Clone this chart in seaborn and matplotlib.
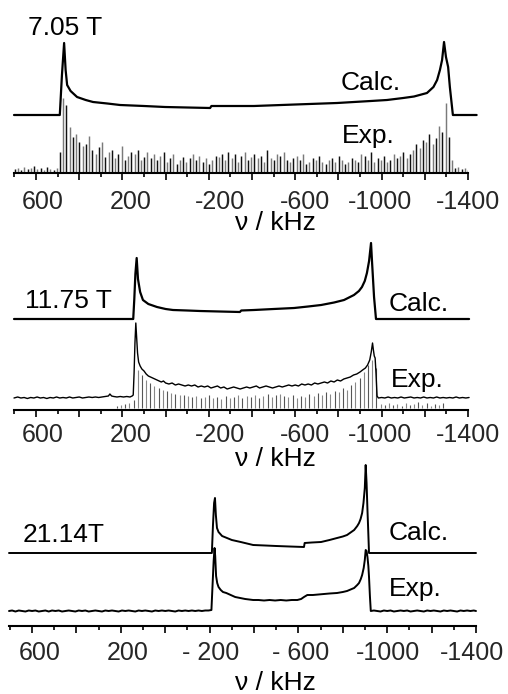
import numpy as np
import matplotlib
matplotlib.use("Agg")
import matplotlib.pyplot as plt
import matplotlib.transforms as mtransforms
from matplotlib.ticker import FixedLocator, MultipleLocator
import seaborn as sns

# ------------------------------------------------------------------ data
tick_values = [600, 400, 200, 0, -200, -400, -600, -800, -1000, -1200, -1400]
tick_labels_ab = ["600", "", "200", "", "-200", "", "-600", "", "-1000", "", "-1400"]
tick_labels_c = ["600", "", "200", "", "- 200", "", "- 600", "", "-1000", "", "-1400"]
field_labels = ["7.05 T", "11.75 T", "21.14T"]
calc_label = "Calc."
exp_label = "Exp."
x_label = "\u03bd / kHz"

# ---- 7.05 T : calculated line
calc1_khz = [702, 490, 480, 470, 463, 456, 440, 410, 370, 336, 270, 211, 100, 3,
             -100, -206, -212, -300, -409, -600, -794, -950, -1025, -1100, -1150,
             -1210, -1240, -1257, -1270, -1280, -1289, -1298, -1308, -1316, -1324,
             -1330, -1440]
calc1_int = [0, 0, 40, 72, 45, 30, 24, 18, 15, 13, 11.5, 10, 9, 8,
             7.5, 7, 9, 9, 9, 10.5, 12, 14, 15, 17, 18.5,
             22, 28, 35, 45, 55, 73, 58, 48, 28, 12,
             0, 0]
# ---- 7.05 T : experimental spikelet heights (699 -> -1401 kHz)
exp1_spk_range = (699, -1401)
exp1_spk_int = [3, 4, 2, 5, 3, 4, 6, 3, 4, 2, 5, 3, 2, 4,
                20, 74, 67, 45, 35, 38, 30, 26, 28, 36,
                22, 18, 25, 30, 15, 20, 22, 14, 18, 26,
                12, 16, 20, 18, 22, 12, 15, 20, 14, 18,
                12, 16, 20, 10, 14, 18, 8, 12, 15, 10,
                14, 18, 12, 16, 10, 14, 8, 12, 16, 15,
                18, 12, 20, 14, 18, 10, 16, 20, 12, 15,
                18, 14, 16, 10, 22, 14, 12, 18, 16, 20,
                12, 10, 14, 16, 12, 18, 8, 10, 14, 12,
                16, 10, 8, 12, 14, 10, 16, 12, 8, 10,
                14, 12, 10, 18, 16, 12, 20, 10, 14, 12,
                16, 10, 12, 18, 14, 16, 20, 14, 18, 22,
                28, 24, 32, 30, 38, 28, 34, 46, 40, 69,
                35, 12,
                4, 5, 3, 4, 2]

# ---- 11.75 T : calculated line
calc2_khz = [702, 150, 145, 140, 134, 128, 118, 105, 80, 40, 0, -34, -100, -159,
             -250, -344, -350, -409, -500, -595, -660, -720, -780, -826, -872,
             -895, -909, -922, -932, -942, -951, -956, -965, -974, -1405]
calc2_int = [0, 0, 20, 45, 61, 40, 27, 19, 15, 12, 10, 9, 8.5, 8,
             7.5, 7, 8.5, 9, 10, 11, 12.5, 14, 16.5, 19, 24,
             28, 32, 38, 46, 58, 76, 56, 22, 0, 0]
# ---- 11.75 T : experimental envelope
exp2_khz = [702, 685, 670, 655, 640, 625, 610, 595, 580, 565, 550, 535, 520, 505,
            490, 475, 460, 445, 430, 415, 400, 385, 370, 355, 340, 325, 310, 295,
            280, 265, 258, 250, 240, 225, 210, 195, 180, 165, 155, 150, 146, 142,
            138, 134, 130, 125, 118, 110, 100, 90, 80, 70, 60, 50, 40, 30, 20, 10,
            0, -15, -30, -45, -60, -75, -90, -105, -120, -135, -150, -165, -180,
            -195, -210, -225, -240, -255, -270, -285, -300, -315, -330, -345, -360,
            -375, -390, -405, -420, -435, -450, -465, -480, -495, -510, -525, -540,
            -555, -570, -585, -600, -615, -630, -645, -660, -675, -690, -705, -720,
            -735, -750, -765, -780, -795, -810, -825, -840, -855, -870, -885, -900,
            -912, -925, -935, -945, -952, -958, -962, -966, -970, -974, -979, -985,
            -1000, -1015, -1030, -1045, -1060, -1075, -1090, -1105, -1120, -1135,
            -1150, -1165, -1180, -1195, -1210, -1225, -1240, -1255, -1270, -1285,
            -1300, -1315, -1330, -1345, -1360, -1375, -1390, -1405]
exp2_int = [0, 1, 0, 0.5, -0.5, 0.5, 0, 1, 0, 0.5, -0.5, 0.5, 0, 1,
            0, 0.5, 0, 1, 0, 0.5, 1, 0, 0.5, 1, 0.5, 1, 0.5, 1,
            1.5, 2, 4, 2, 1.5, 1, 1.5, 1, 1.5, 1, 2, 3, 25, 55,
            75, 60, 45, 36, 32, 29, 27, 24, 22, 21, 20, 19, 18, 17, 16, 17,
            15, 14, 15, 13, 14, 13, 12, 13, 12, 13, 11, 12, 11,
            12, 10, 11, 12, 10, 11, 9, 10, 11, 10, 9, 10,
            11, 10, 11, 12, 10, 11, 12, 11, 10, 11, 12, 11,
            12, 13, 12, 13, 12, 14, 13, 14, 13, 15, 14, 15,
            16, 15, 17, 16, 18, 17, 19, 20, 21, 23, 24, 26,
            28, 30, 33, 38, 46, 55, 48, 42, 40, 25, 2, 0,
            0.5, 0, 1, 0, 0.5, 0, 1, 0, 0.5, 1,
            0, 0.5, 0, 1, 0, 0.5, 0, 1, 0, 0.5,
            0, 0.5, 0, 1, 0, 0.5, 0, 0.5]
# ---- 11.75 T : experimental spikelet heights (226 -> -1286 kHz)
exp2_spk_range = (226, -1286)
exp2_spk_int = [2, 3, 4, 5, 8, 38, 33, 28, 25, 22, 20, 18, 17, 15, 14, 13, 13,
                12, 11, 12, 10, 11, 13, 10, 11, 9, 12, 10, 11, 13, 10, 12, 11,
                13, 10, 12, 14, 11, 13, 14, 12, 11, 13, 10, 12, 11, 14, 12, 15,
                13, 16, 14, 17, 16, 20, 18, 23, 26, 30, 36, 43, 48, 40,
                4, 3, 5, 3, 4, 2, 5, 3, 4, 6, 3, 5, 2, 4, 3, 5]

# ---- 21.14 T : calculated line
calc3_khz = [704, -210, -215, -220, -224, -228, -233, -240, -256, -278, -300, -340,
             -396, -450, -500, -560, -625, -628, -660, -702, -740, -774, -800,
             -819, -835, -851, -865, -873, -880, -887, -893, -899, -903, -907,
             -911, -914, -918, -1400]
calc3_int = [0, 0, 28, 50, 55, 38, 25, 21, 17, 15, 13, 11,
             8, 7.5, 7, 6.5, 6, 10, 10.5, 11, 13, 15, 16.5,
             18, 20.5, 23, 27, 30, 34, 40, 50, 65, 88, 70,
             43, 25, 0, 0]
# ---- 21.14 T : experimental line
exp3_khz = [704, 690, 675, 660, 645, 630, 615, 600, 585, 570, 555, 540, 525, 510,
            495, 480, 465, 450, 435, 420, 405, 390, 375, 360, 345, 330, 315, 300,
            285, 270, 255, 240, 225, 210, 195, 180, 165, 150, 135, 120, 105, 90,
            75, 60, 45, 30, 15, 0, -15, -30, -45, -60, -75, -90, -105, -120, -135,
            -150, -165, -180, -195, -208, -213, -218, -222, -225, -229, -234, -240,
            -250, -260, -275, -295, -315, -337, -360, -380, -396, -420, -445, -470,
            -495, -520, -545, -570, -595, -612, -625, -640, -665, -690, -715, -740,
            -774, -800, -819, -835, -851, -865, -873, -881, -887, -894, -899, -903,
            -907, -911, -915, -918, -922, -926, -940, -955, -970, -985, -1000,
            -1015, -1030, -1045, -1060, -1075, -1090, -1105, -1120, -1135, -1150,
            -1165, -1180, -1195, -1210, -1225, -1240, -1255, -1270, -1285, -1300,
            -1315, -1330, -1345, -1360, -1375, -1390, -1400]
exp3_int = [0, 0.5, -0.5, 0.5, 0, -0.5, 0.5, 0, 0.5, -0.5, 0, 0.5, -0.5, 0.5,
            0, 0.5, -0.5, 0, 0.5, 0, -0.5, 0.5, 0, 0.5, -0.5, 0, 0.5, 0,
            -0.5, 0.5, 0, 0.5, 0, -0.5, 0.5, 0, 0.5, 0, -0.5, 0.5, 0, 0.5,
            0, -0.5, 0.5, 0, 0.5, 0, 0.5, 0, -0.5, 0.5, 0, 0.5, 0, 0.5, 0,
            0.5, 0, 0.5, 0.5, 1, 25, 50, 63, 55, 35, 28, 24,
            21, 19, 18, 16, 14, 13, 12, 11.5, 11, 11, 10.5, 11,
            10.5, 11, 10.5, 11, 11, 12, 14, 16, 16, 16.5, 17, 17.5,
            18, 19, 20, 21.5, 23, 26, 28, 32, 36, 43, 51, 61,
            60, 54, 45, 34, 15, 0, 0.5, 0, -0.5, 0.5, 0,
            0.5, -0.5, 0, 0.5, 0, 0.5, -0.5, 0, 0.5, 0,
            -0.5, 0.5, 0, 0.5, 0, -0.5, 0.5, 0, 0.5, 0,
            -0.5, 0.5, 0, 0.5, 0, 0.5, 0]

# ------------------------------------------------------------------ style
sns.set_theme(style="white")
plt.rcParams["font.family"] = ["Liberation Sans", "DejaVu Sans"]

W, H = 508, 694
fig = plt.figure(figsize=(W / 100, H / 100), dpi=100)


def px_axes(x0, x1, ytop, ybot):
    return fig.add_axes([x0 / W, 1 - ybot / H, (x1 - x0) / W, (ybot - ytop) / H])


def ftext(x, y, s, size=19, ha="left"):
    fig.text(x / W, 1 - y / H, s, fontsize=size, ha=ha, va="baseline", color="black")


def style_axis(ax, xlim, ylim, labels, offsets, pad):
    ax.set_xlim(*xlim)
    ax.set_ylim(*ylim)
    for side in ["top", "left", "right"]:
        ax.spines[side].set_visible(False)
    ax.spines["bottom"].set_linewidth(1.5)
    ax.spines["bottom"].set_color("black")
    ax.set_yticks([])
    ax.xaxis.set_major_locator(FixedLocator(tick_values))
    ax.set_xticklabels(labels)
    ax.xaxis.set_minor_locator(MultipleLocator(100))
    ax.tick_params(axis="x", which="major", direction="out", length=5, width=1.2,
                   color="black", labelsize=18, pad=pad, bottom=True)
    ax.tick_params(axis="x", which="minor", direction="out", length=3, width=1.2,
                   color="black", bottom=True)
    ax.set_xlabel("")
    k = 0
    for lab, txt in zip(ax.get_xticklabels(), labels):
        if txt:
            dx = offsets[k]
            k += 1
            lab.set_transform(lab.get_transform() +
                              mtransforms.ScaledTranslation(dx / 100, 0, fig.dpi_scale_trans))
    ax.patch.set_alpha(0)


def line(ax, xs, ys, base, lw):
    sns.lineplot(x=np.asarray(xs, float), y=np.asarray(ys, float) + base, ax=ax,
                 color="black", linewidth=lw, sort=False, estimator=None,
                 clip_on=False, legend=False)


def spikes(ax, rng, hs, base, c1, c2, lw=0.8):
    xs = np.linspace(rng[0], rng[1], len(hs))
    hs = np.asarray(hs, float)
    cols = [c1 if i % 2 == 0 else c2 for i in range(len(hs))]
    ax.vlines(xs, base, base + hs, colors=cols, linewidth=lw)


off_ab = [7, 8, 11, 10, -2, 0]
off_c = [8, 7, 1, 2, 1, -4]

# ---- panel 1
ax1 = px_axes(14, 468, 20, 173)
spikes(ax1, exp1_spk_range, exp1_spk_int, 1, "#111111", "#7a7a7a", lw=1.05)
line(ax1, calc1_khz, calc1_int, 58, 1.6)
style_axis(ax1, (702, -1400), (0, 153), tick_labels_ab, off_ab, 7)
ftext(28, 35, field_labels[0])
ftext(341, 90, calc_label)
ftext(342, 143, exp_label)
ftext(275, 230, x_label, ha="center")

# ---- panel 2
ax2 = px_axes(14, 468, 240, 410)
spikes(ax2, exp2_spk_range, exp2_spk_int, 2, "#555555", "#888888")
line(ax2, exp2_khz, exp2_int, 12, 1.0)
line(ax2, calc2_khz, calc2_int, 91, 1.6)
style_axis(ax2, (702, -1400), (0, 170), tick_labels_ab, off_ab, 4.5)
ftext(25, 308, field_labels[1])
ftext(389, 311, calc_label)
ftext(391, 387, exp_label)
ftext(275, 466, x_label, ha="center")

# ---- panel 3
ax3 = px_axes(9, 476, 460, 626)
line(ax3, exp3_khz, exp3_int, 15, 1.4)
line(ax3, calc3_khz, calc3_int, 73, 1.4)
style_axis(ax3, (704, -1400), (0, 166), tick_labels_c, off_c, 6)
ftext(23, 542, field_labels[2])
ftext(389, 540, calc_label)
ftext(389, 596, exp_label)
ftext(275, 690, x_label, ha="center")

fig.savefig("out.png", dpi=100)
